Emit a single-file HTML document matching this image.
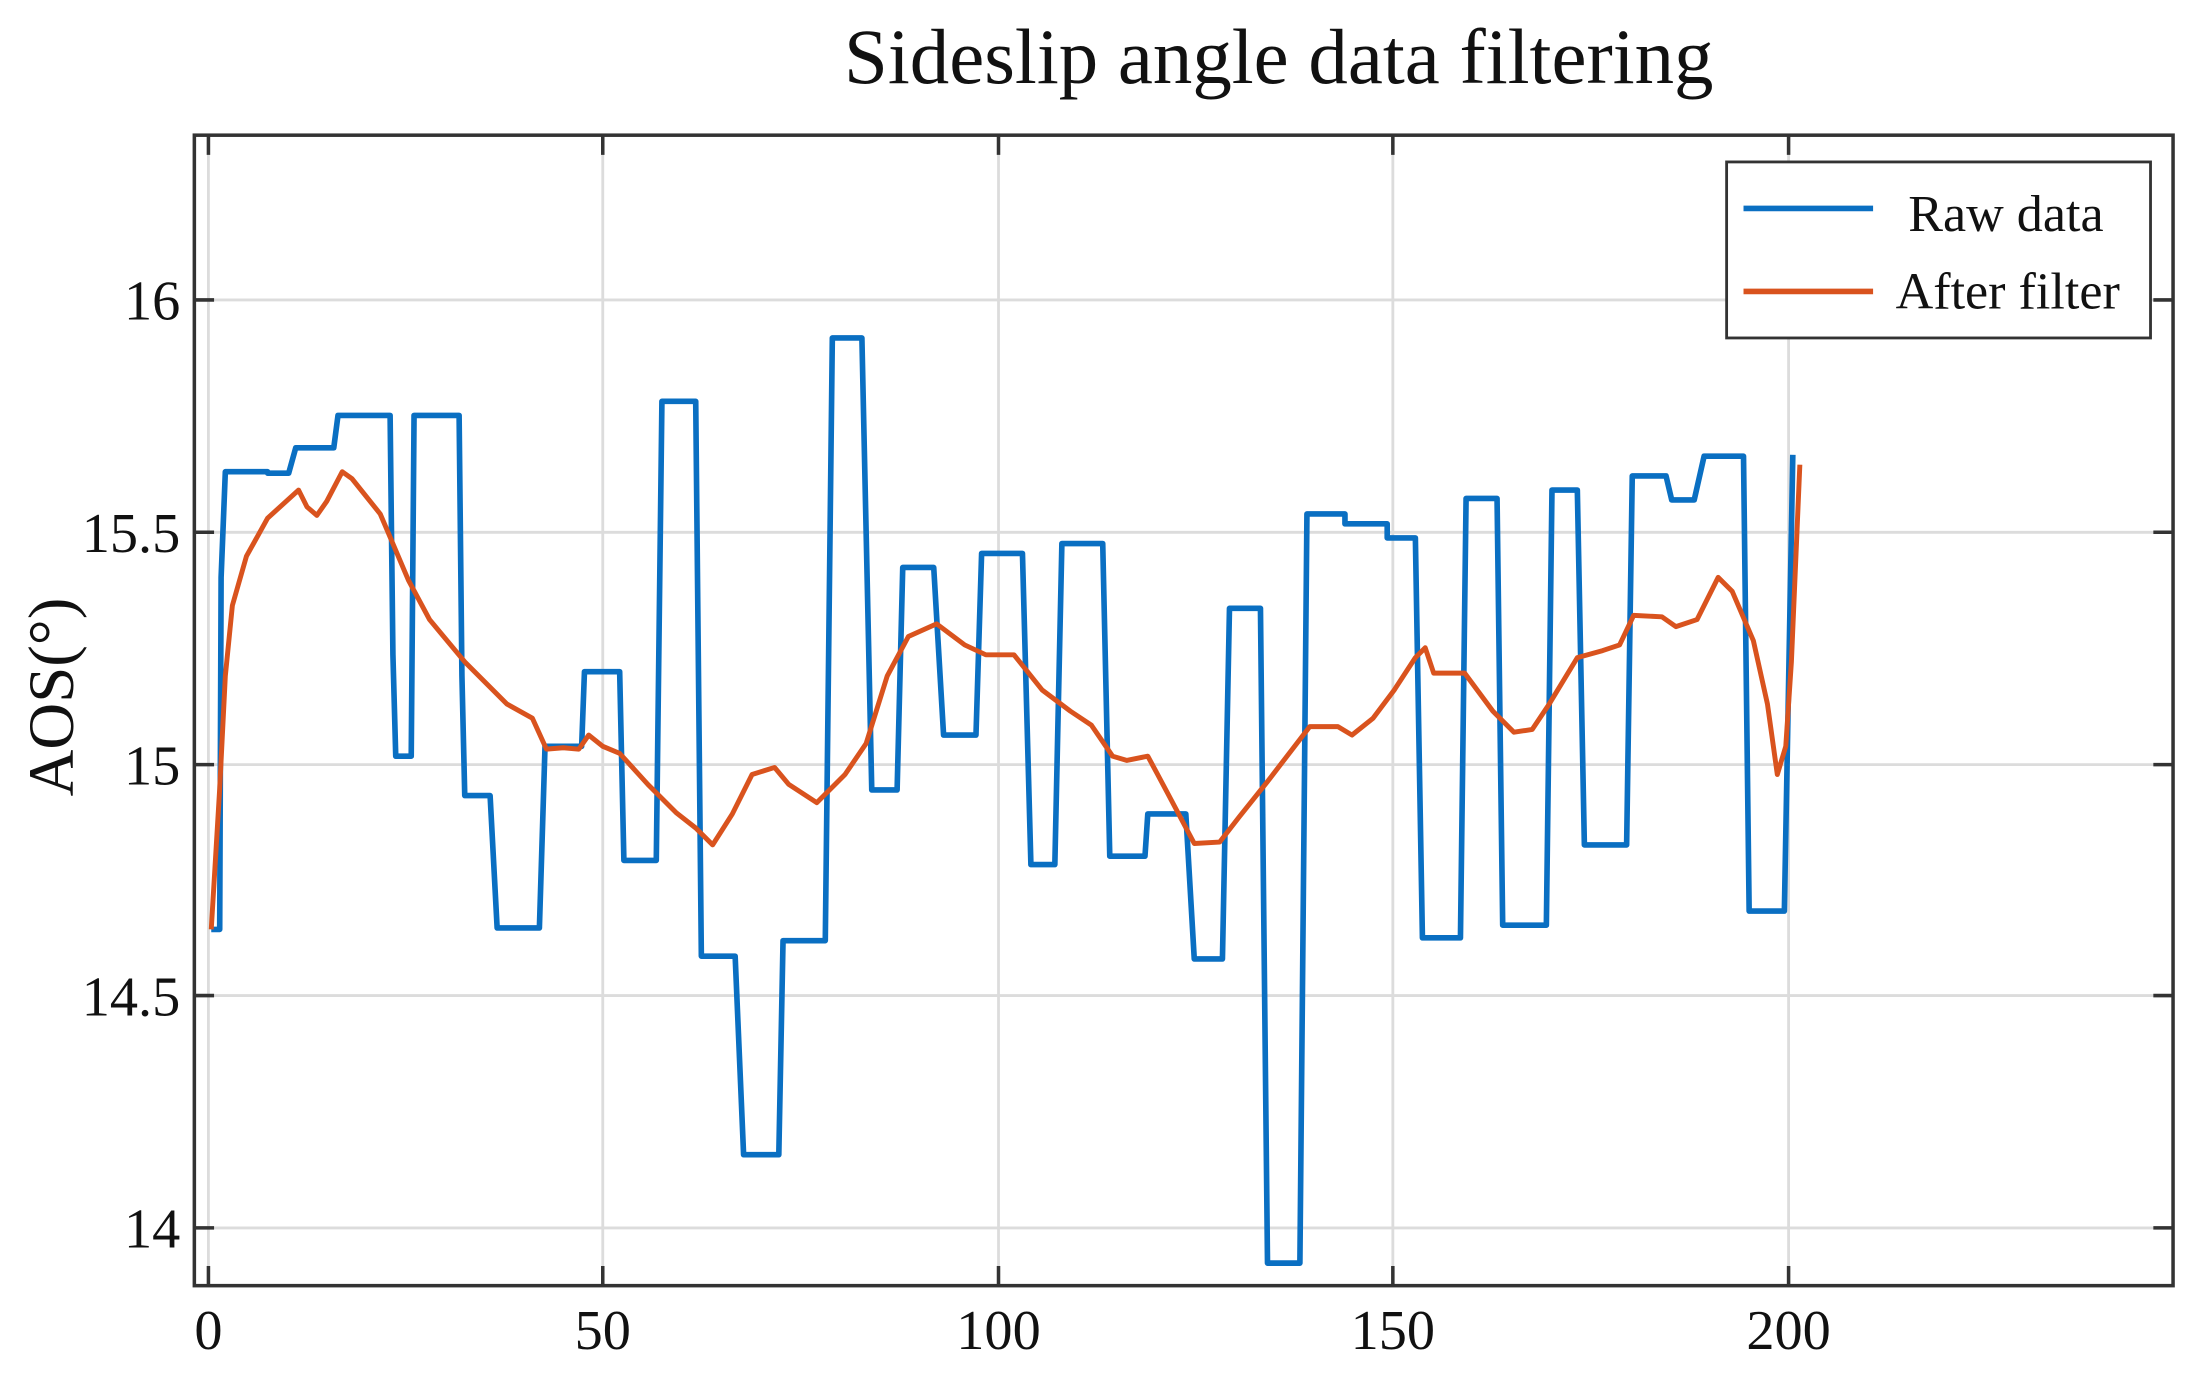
<!DOCTYPE html>
<html><head><meta charset="utf-8"><style>
html,body{margin:0;padding:0;background:#fff;}
svg{display:block;}
text{font-family:"Liberation Serif",serif;fill:#111;}
</style></head><body>
<svg width="2197" height="1380" viewBox="0 0 1560 980" preserveAspectRatio="none" xmlns="http://www.w3.org/2000/svg">
<rect width="1560" height="980" fill="#fff"/>
<text x="908" y="59" font-size="56" text-anchor="middle">Sideslip angle data filtering</text>
<g stroke="#dcdcdc" stroke-width="2">
<line x1="148" y1="96" x2="148" y2="913"/><line x1="428" y1="96" x2="428" y2="913"/><line x1="709" y1="96" x2="709" y2="913"/><line x1="989" y1="96" x2="989" y2="913"/><line x1="1270" y1="96" x2="1270" y2="913"/>
<line x1="138" y1="213" x2="1543" y2="213"/><line x1="138" y1="378" x2="1543" y2="378"/><line x1="138" y1="543" x2="1543" y2="543"/><line x1="138" y1="707" x2="1543" y2="707"/><line x1="138" y1="872" x2="1543" y2="872"/>
</g>
<rect x="138" y="96" width="1405" height="817" fill="none" stroke="#333" stroke-width="2.5"/>
<g stroke="#333" stroke-width="2.5">
<path d="M148 913v-14M428 913v-14M709 913v-14M989 913v-14M1270 913v-14M148 96v14M428 96v14M709 96v14M989 96v14M1270 96v14"/>
<path d="M138 213h14M138 378h14M138 543h14M138 707h14M138 872h14M1543 213h-14M1543 378h-14M1543 543h-14M1543 707h-14M1543 872h-14"/>
</g>
<g font-size="40" text-anchor="middle">
<text x="148" y="958">0</text><text x="428" y="958">50</text><text x="709" y="958">100</text><text x="989" y="958">150</text><text x="1270" y="958">200</text>
</g>
<g font-size="40" text-anchor="end">
<text x="128" y="227">16</text><text x="128" y="392">15.5</text><text x="128" y="557">15</text><text x="128" y="721">14.5</text><text x="128" y="886">14</text>
</g>
<text transform="translate(52,495) rotate(-90)" font-size="46" text-anchor="middle">AOS(°)</text>
<path fill="none" stroke="#0a6fc2" stroke-width="4" stroke-linejoin="round" d="M150 660 H156 L157 410 L160 335 H190 V336 H205 L210 318 H237 L240 295 H277 L279 465 L281 537 H292 L294 295 H326 L328 480 L330 565 H348 L353 659 H383 L387 530 H413 L415 477 H440 L443 611 H466 L470 285 H494 L498 679 H522 L528 820 H553 L556 668 H586 L591 240 H612 L619 561 H637 L641 403 H663 L670 522 H693 L697 393 H726 L732 614 H749 L754 386 H783 L788 608 H813 L815 578 H842 L848 681 H868 L873 432 H895 L900 897 H923 L928 365 H955 V372 H985 V382 H1005 L1010 666 H1037 L1041 354 H1063 L1067 657 H1098 L1102 348 H1120 L1125 600 H1155 L1159 338 H1183 L1187 355 H1203 L1210 324 H1238 L1242 647 H1267 L1273 323"/>
<path fill="none" stroke="#d9531e" stroke-width="3.5" stroke-linejoin="round" d="M150 660 L156 560 L160 480 L165 430 L175 395 L190 368 L212 348 L218 360 L225 366 L232 356 L243 335 L250 340 L270 365 L290 412 L305 440 L330 470 L360 500 L378 510 L388 532 L400 531 L411 532 L418 522 L428 530 L440 535 L460 557 L480 577 L494 588 L506 600 L520 578 L534 550 L550 545 L560 557 L580 570 L600 550 L615 528 L630 480 L645 452 L665 443 L685 458 L700 465 L720 465 L740 490 L760 505 L775 515 L790 537 L800 540 L815 537 L822 550 L830 565 L848 599 L866 598 L880 580 L900 555 L930 516 L950 516 L960 522 L975 510 L990 490 L1005 467 L1012 460 L1018 478 L1040 478 L1060 505 L1075 520 L1088 518 L1100 500 L1120 467 L1138 462 L1150 458 L1160 437 L1180 438 L1190 445 L1205 440 L1220 410 L1230 420 L1245 455 L1255 500 L1262 550 L1268 530 L1272 470 L1278 330"/>
<rect x="1226" y="115" width="301" height="125" fill="#fff" stroke="#333" stroke-width="2"/>
<line x1="1238" y1="148" x2="1330" y2="148" stroke="#0a6fc2" stroke-width="4"/>
<line x1="1238" y1="207" x2="1330" y2="207" stroke="#d9531e" stroke-width="4"/>
<text x="1355" y="164" font-size="37">Raw data</text>
<text x="1346" y="219" font-size="37">After filter</text>
</svg>
</body></html>
